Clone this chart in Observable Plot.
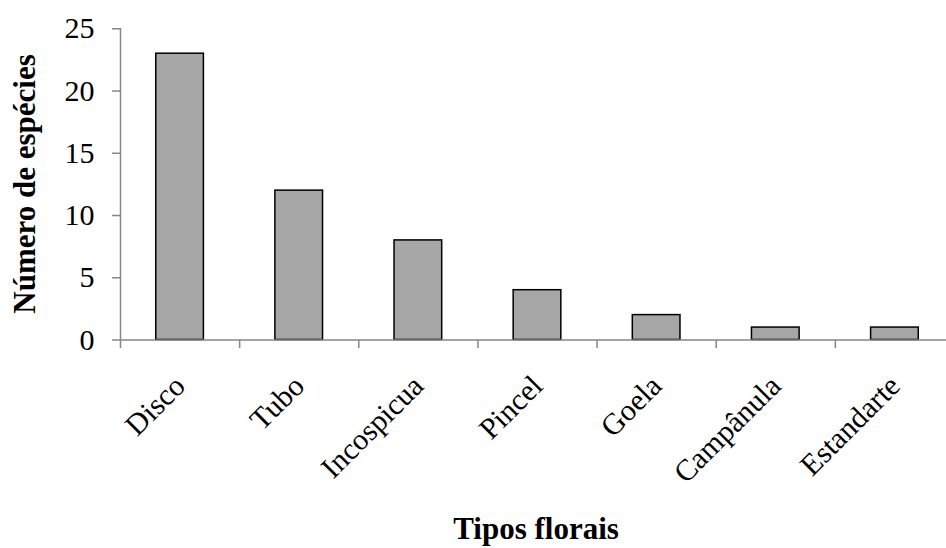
<!DOCTYPE html>
<html>
<head>
<meta charset="utf-8">
<script src="https://cdn.jsdelivr.net/npm/d3@7"></script>
<script src="https://cdn.jsdelivr.net/npm/@observablehq/plot@0.6"></script>
<style>
  html, body { margin: 0; padding: 0; background: #fff; }
  #chart svg { display: block; }
  #chart svg text { font-family: "Liberation Serif", "Times New Roman", Times, serif !important; }
</style>
</head>
<body>
<div id="chart"></div>
<script>
const categories = ["Disco", "Tubo", "Incospicua", "Pincel", "Goela", "Campânula", "Estandarte"];
const counts = [23, 12, 8, 4, 2, 1, 1];
const yTicks = [0, 5, 10, 15, 20, 25];
const xTitle = "Tipos florais";
const yTitle = "Número de espécies";

const data = categories.map((tipo, i) => ({ tipo, n: counts[i], i }));
const bandEdges = d3.range(categories.length + 1);
const axisGray = "#868686";
const serif = "Liberation Serif";

const plot = Plot.plot({
  width: 946,
  height: 548,
  marginLeft: 120,
  marginRight: 0,
  marginTop: 28,
  marginBottom: 208,
  style: { fontFamily: serif, fontSize: "30px", background: "#fff", color: "#000" },
  x: { type: "linear", domain: [0, categories.length], range: [120, 954] },
  y: { domain: [0, 25], range: [339.5, 28.3] },
  marks: [
    Plot.rectY(data, { x1: d => d.i + 0.3, x2: d => d.i + 0.7, y: "n", fill: "#a6a6a6", stroke: "#000", strokeWidth: 1.5 }),
    Plot.ruleX([0], { stroke: axisGray, strokeWidth: 1.5 }),
    Plot.ruleY([0], { stroke: axisGray, strokeWidth: 1.5 }),
    Plot.axisY({ ticks: yTicks, tickSize: 8, tickPadding: 18, stroke: axisGray, fill: "#000", strokeWidth: 1.5, fontSize: 30, fontFamily: serif, label: null }),
    Plot.axisX({ ticks: bandEdges, tickSize: 8, tickFormat: () => "", stroke: axisGray, strokeWidth: 1.5, label: null }),
    Plot.text(data, { x: d => d.i + 0.5, y: 0, text: "tipo", rotate: -45, textAnchor: "end", dx: 0, dy: 41, fontSize: 30, fontFamily: serif, fill: "#000" })
  ]
});

const svg = d3.select(plot);
svg.append("text")
  .attr("x", 536).attr("y", 539)
  .attr("text-anchor", "middle")
  .attr("font-family", serif)
  .attr("font-weight", "bold").attr("font-size", 31)
  .attr("fill", "#000")
  .text(xTitle);
svg.append("text")
  .attr("transform", "translate(35,184) rotate(-90)")
  .attr("text-anchor", "middle")
  .attr("font-family", serif)
  .attr("font-weight", "bold").attr("font-size", 31)
  .attr("fill", "#000")
  .text(yTitle);

document.getElementById("chart").append(plot);
</script>
</body>
</html>
